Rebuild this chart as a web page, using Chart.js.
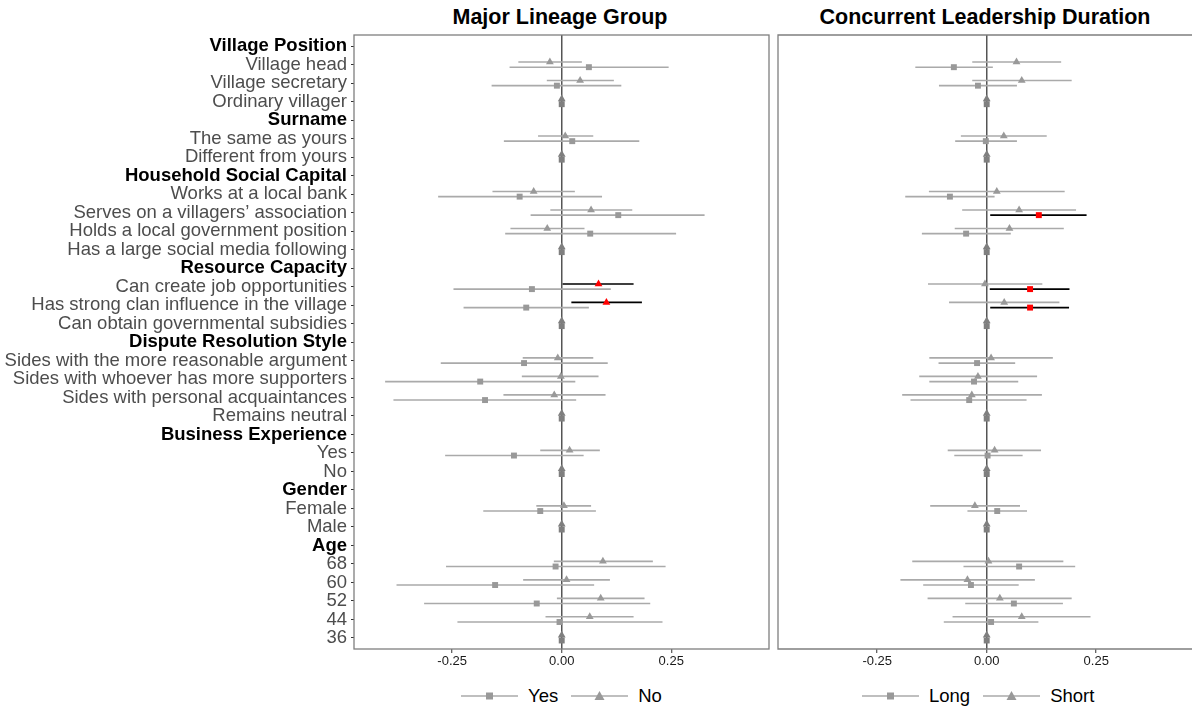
<!DOCTYPE html>
<html>
<head>
<meta charset="utf-8">
<script src="https://cdn.jsdelivr.net/npm/chart.js@4.4.1/dist/chart.umd.min.js"></script>
<style>
  html, body { margin: 0; padding: 0; background: #fff; overflow: hidden; }
  body { width: 1192px; height: 708px; position: relative; font-family: "Liberation Sans", Arial, sans-serif; }
  .title { position: absolute; top: 5px; line-height: 24px; font-size: 21.5px; font-weight: bold; color: #000; transform: translateX(-50%); white-space: nowrap; }
  .legend { position: absolute; top: 684px; height: 24px; display: flex; align-items: center; font-size: 18.5px; color: #000; }
  .legend svg { display: block; }
  canvas { position: absolute; top: 30px; }
  #lineageChart { left: 0; }
  #durationChart { left: 771px; }
</style>
</head>
<body>
<div class="title" style="left:560px">Major Lineage Group</div>
<div class="title" style="left:985px">Concurrent Leadership Duration</div>
<canvas id="lineageChart" width="771" height="647"></canvas>
<canvas id="durationChart" width="421" height="647"></canvas>
<div class="legend" id="leftLegend" style="left:461px"></div>
<div class="legend" id="rightLegend" style="left:862px"></div>

<script>
// rows, top to bottom
const rowLabels = [
  'Village Position', 'Village head', 'Village secretary', 'Ordinary villager',
  'Surname', 'The same as yours', 'Different from yours',
  'Household Social Capital', 'Works at a local bank', 'Serves on a villagers\u2019 association',
  'Holds a local government position', 'Has a large social media following',
  'Resource Capacity', 'Can create job opportunities', 'Has strong clan influence in the village',
  'Can obtain governmental subsidies',
  'Dispute Resolution Style', 'Sides with the more reasonable argument',
  'Sides with whoever has more supporters', 'Sides with personal acquaintances', 'Remains neutral',
  'Business Experience', 'Yes', 'No',
  'Gender', 'Female', 'Male',
  'Age', '68', '60', '52', '44', '36'
];
const groupHeaders = ['Village Position', 'Surname', 'Household Social Capital', 'Resource Capacity',
  'Dispute Resolution Style', 'Business Experience', 'Gender', 'Age'];

const xTicks = [-0.25, 0, 0.25];

// Major Lineage Group: Yes (square) / No (triangle)
const lineageYesEst = [null, 0.062, -0.011, 0, null, 0.024, 0, null, -0.096, 0.129, 0.065, 0, null, -0.068, -0.081, 0, null, -0.086, -0.186, -0.175, 0, null, -0.109, 0, null, -0.049, 0, null, -0.014, -0.152, -0.057, -0.005, 0];
const lineageYesLo  = [null, -0.119, -0.160, 0, null, -0.132, 0, null, -0.282, -0.071, -0.129, 0, null, -0.247, -0.224, 0, null, -0.276, -0.403, -0.384, 0, null, -0.266, 0, null, -0.179, 0, null, -0.264, -0.377, -0.314, -0.238, 0];
const lineageYesHi  = [null, 0.244, 0.136, 0, null, 0.177, 0, null, 0.092, 0.326, 0.261, 0, null, 0.112, 0.062, 0, null, 0.105, 0.031, 0.033, 0, null, 0.050, 0, null, 0.078, 0, null, 0.237, 0.074, 0.202, 0.230, 0];

const lineageNoEst = [null, -0.027, 0.042, 0, null, 0.008, 0, null, -0.064, 0.067, -0.033, 0, null, 0.084, 0.102, 0, null, -0.009, -0.002, -0.017, 0, null, 0.018, 0, null, 0.005, 0, null, 0.094, 0.011, 0.089, 0.064, 0];
const lineageNoLo  = [null, -0.099, -0.034, 0, null, -0.054, 0, null, -0.158, -0.026, -0.117, 0, null, 0.002, 0.022, 0, null, -0.089, -0.091, -0.133, 0, null, -0.049, 0, null, -0.058, 0, null, -0.018, -0.088, -0.011, -0.037, 0];
const lineageNoHi  = [null, 0.046, 0.119, 0, null, 0.072, 0, null, 0.030, 0.161, 0.052, 0, null, 0.164, 0.183, 0, null, 0.072, 0.084, 0.100, 0, null, 0.087, 0, null, 0.067, 0, null, 0.208, 0.110, 0.189, 0.164, 0];

// Concurrent Leadership Duration: Long (square) / Short (triangle)
const durationLongEst = [null, -0.075, -0.020, 0, null, -0.002, 0, null, -0.084, 0.119, -0.047, 0, null, 0.099, 0.099, 0, null, -0.022, -0.029, -0.040, 0, null, 0.002, 0, null, 0.024, 0, null, 0.074, -0.036, 0.062, 0.010, 0];
const durationLongLo  = [null, -0.163, -0.109, 0, null, -0.072, 0, null, -0.186, 0.008, -0.148, 0, null, 0.007, 0.008, 0, null, -0.110, -0.131, -0.174, 0, null, -0.074, 0, null, -0.044, 0, null, -0.053, -0.145, -0.049, -0.098, 0];
const durationLongHi  = [null, 0.014, 0.069, 0, null, 0.069, 0, null, 0.018, 0.228, 0.055, 0, null, 0.189, 0.188, 0, null, 0.065, 0.072, 0.091, 0, null, 0.082, 0, null, 0.092, 0, null, 0.202, 0.073, 0.174, 0.118, 0];

const durationShortEst = [null, 0.068, 0.080, 0, null, 0.039, 0, null, 0.023, 0.074, 0.052, 0, null, -0.004, 0.040, 0, null, 0.010, -0.020, -0.034, 0, null, 0.018, 0, null, -0.027, 0, null, 0.004, -0.044, 0.030, 0.080, 0];
const durationShortLo  = [null, -0.033, -0.033, 0, null, -0.059, 0, null, -0.132, -0.056, -0.073, 0, null, -0.134, -0.086, 0, null, -0.131, -0.154, -0.193, 0, null, -0.089, 0, null, -0.129, 0, null, -0.170, -0.197, -0.135, -0.078, 0];
const durationShortHi  = [null, 0.170, 0.194, 0, null, 0.137, 0, null, 0.178, 0.204, 0.176, 0, null, 0.127, 0.166, 0, null, 0.151, 0.115, 0.126, 0, null, 0.124, 0, null, 0.076, 0, null, 0.175, 0.110, 0.194, 0.237, 0];

const FONT = '"Liberation Sans", Arial, sans-serif';
const DODGE = 0.14;
const GRAY = '#999999', CI_GRAY = '#aaaaaa', REF_GRAY = '#7f7f7f';

const isSig = (lo, hi) => lo > 0 || hi < 0;

function markerSet(label, est, lo, hi, shift, style) {
  const data = [];
  const colors = [];
  est.forEach((v, i) => {
    if (v === null) return;
    data.push({ x: v, y: i + 1 + shift });
    colors.push(isSig(lo[i], hi[i]) ? '#ff0000' : (lo[i] === hi[i] ? REF_GRAY : GRAY));
  });
  return {
    label, data, showLine: false, order: 0,
    pointStyle: style, pointRadius: style === 'rect' ? 4.2 : 4.5,
    pointBorderWidth: 0, pointBackgroundColor: colors, pointHoverRadius: 4
  };
}

function ciSets(lo, hi, shift) {
  const gray = [], black = [];
  lo.forEach((l, i) => {
    if (l === null || l === hi[i]) return;
    const target = isSig(l, hi[i]) ? black : gray;
    target.push({ x: l, y: i + 1 + shift }, { x: hi[i], y: i + 1 + shift }, { x: null, y: null });
  });
  const base = { showLine: true, spanGaps: false, pointRadius: 0, borderWidth: 1.6, order: 1 };
  return [
    Object.assign({ label: 'ci', data: gray, borderColor: CI_GRAY }, base),
    Object.assign({ label: 'ci', data: black, borderColor: '#000000' }, base)
  ];
}

// panel frame; the right panel runs off the edge of the picture, so no right side there
const panelBorder = {
  id: 'panelBorder',
  beforeDatasetsDraw(chart, args, opts) {
    const { ctx, chartArea: a } = chart;
    ctx.save();
    ctx.strokeStyle = '#7f7f7f';
    ctx.lineWidth = 1.3;
    if (opts.right) {
      ctx.strokeRect(a.left, a.top, a.right - a.left, a.bottom - a.top);
    } else {
      ctx.beginPath();
      ctx.moveTo(a.right + 2, a.top);
      ctx.lineTo(a.left, a.top);
      ctx.lineTo(a.left, a.bottom);
      ctx.lineTo(a.right + 2, a.bottom);
      ctx.stroke();
    }
    ctx.restore();
  }
};

function makeChart(id, sq, tri, xmin, xmax, showY, pad, rightSide) {
  const datasets = [
    markerSet('sq', sq[0], sq[1], sq[2], DODGE, 'rect'),
    markerSet('tri', tri[0], tri[1], tri[2], -DODGE, 'triangle'),
    ...ciSets(sq[1], sq[2], DODGE),
    ...ciSets(tri[1], tri[2], -DODGE)
  ];
  return new Chart(document.getElementById(id), {
    type: 'scatter',
    data: { datasets },
    plugins: [panelBorder],
    options: {
      responsive: false,
      animation: false,
      layout: { padding: pad, autoPadding: false },
      plugins: {
        legend: { display: false },
        tooltip: { enabled: false },
        panelBorder: { right: rightSide }
      },
      scales: {
        x: {
          type: 'linear', min: xmin, max: xmax,
          afterBuildTicks: axis => { axis.ticks = xTicks.map(v => ({ value: v })); },
          afterFit: axis => { axis.height = 28; axis.paddingLeft = 0; axis.paddingRight = 0; },
          border: { display: false },
          grid: {
            color: c => (c.tick && c.tick.value === 0 ? '#555555' : 'rgba(0,0,0,0)'),
            lineWidth: 1.5, tickColor: '#333333', tickWidth: 1, tickLength: 4
          },
          ticks: {
            autoSkip: false, maxRotation: 0, padding: 1, color: '#1a1a1a',
            font: { family: FONT, size: 13 },
            callback: v => v.toFixed(2)
          }
        },
        y: {
          type: 'linear', reverse: true, min: 0.4, max: 33.6,
          display: showY,
          afterBuildTicks: axis => { axis.ticks = rowLabels.map((_, i) => ({ value: i + 1 })); },
          afterFit: axis => {
            if (showY) axis.width = 354;
            axis.paddingTop = 0; axis.paddingBottom = 0;
          },
          border: { display: false },
          grid: { drawOnChartArea: false, tickColor: '#333333', tickLength: 3, tickWidth: 1 },
          ticks: {
            autoSkip: false, padding: 4,
            color: c => (groupHeaders.includes(rowLabels[c.index]) ? '#000000' : '#4d4d4d'),
            font: c => ({ family: FONT, size: 18.5, lineHeight: 1, weight: groupHeaders.includes(rowLabels[c.index]) ? 'bold' : 'normal' }),
            callback: v => rowLabels[v - 1]
          }
        }
      }
    }
  });
}

makeChart('lineageChart',
  [lineageYesEst, lineageYesLo, lineageYesHi],
  [lineageNoEst, lineageNoLo, lineageNoHi],
  -0.474, 0.473, true, { top: 5, right: 2, left: 0, bottom: 0 }, true);

makeChart('durationChart',
  [durationLongEst, durationLongLo, durationLongHi],
  [durationShortEst, durationShortLo, durationShortHi],
  -0.4765, 0.4687, false, { top: 5, right: 0, left: 7, bottom: 0 }, false);

// legends
function legendIcon(shape) {
  const mark = shape === 'rect'
    ? '<rect x="25" y="2.5" width="7" height="7" fill="#999999"/>'
    : '<polygon points="28.5,1 33.5,10 23.5,10" fill="#999999"/>';
  return '<svg width="57" height="12"><line x1="0" y1="6" x2="57" y2="6" stroke="#aaaaaa" stroke-width="1.6"/>' + mark + '</svg>';
}
function buildLegend(id, items) {
  const el = document.getElementById(id);
  el.innerHTML = items.map(([shape, text], k) =>
    legendIcon(shape) + '<span style="margin-left:10px;margin-right:' + (k === 0 ? 13 : 0) + 'px">' + text + '</span>'
  ).join('');
}
buildLegend('leftLegend', [['rect', 'Yes'], ['triangle', 'No']]);
buildLegend('rightLegend', [['rect', 'Long'], ['triangle', 'Short']]);
</script>
</body>
</html>
